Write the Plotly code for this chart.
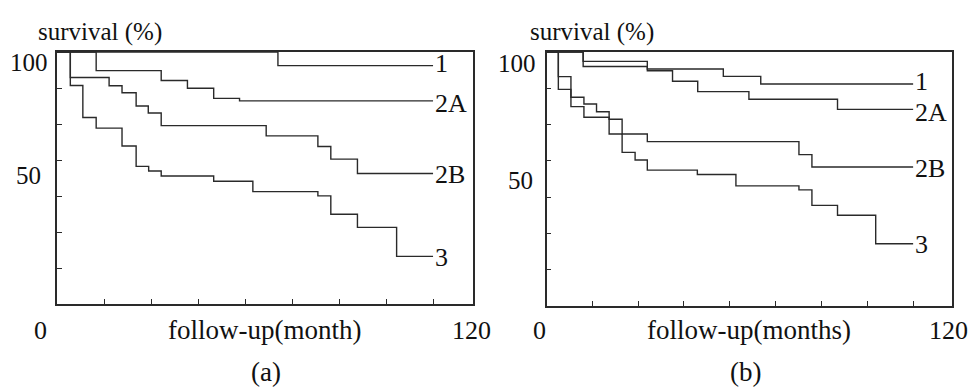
import plotly.graph_objects as go

# ---------------- data (months, survival %) ----------------
A_T1 = [0, 56.4, 96.0]
A_S1 = [100, 94.6, 94.6]
A_T2A = [0, 10.0, 26.6, 33.3, 40.0, 46.6, 96.0]
A_S2A = [100, 92.6, 88.7, 85.6, 81.6, 80.6, 80.6]
A_T2B = [0, 3.4, 13.3, 16.6, 20.2, 23.3, 26.6, 53.4, 66.6, 69.9, 76.7, 96.0]
A_S2B = [100, 89.9, 86.6, 83.8, 78.6, 75.8, 70.8, 66.7, 62.5, 57.5, 51.8, 51.8]
A_T3 = [0, 3.4, 6.6, 10.0, 16.6, 20.2, 23.4, 26.6, 40.0, 50.0, 66.6, 69.9, 76.7, 86.7, 96.0]
A_S3 = [100, 86.7, 74.0, 69.8, 62.7, 54.6, 52.8, 50.8, 48.7, 44.6, 42.9, 35.6, 30.4, 18.9, 18.9]

B_T1 = [0, 9.6, 26.4, 46.3, 56.1, 96.0]
B_S1 = [100, 96.3, 93.3, 90.4, 87.4, 87.4]
B_T2A = [0, 9.6, 26.4, 33.0, 39.6, 53.0, 76.2, 96.0]
B_S2A = [100, 94.3, 92.6, 88.5, 84.4, 81.4, 77.4, 77.4]
B_T2B = [0, 3.1, 6.4, 9.8, 13.1, 16.4, 19.8, 26.4, 66.1, 69.5, 96.0]
B_S2B = [100, 90.3, 82.2, 79.5, 76.5, 73.5, 67.7, 64.7, 59.6, 54.7, 54.7]
B_T3 = [0, 3.1, 6.4, 9.8, 16.4, 19.8, 23.2, 26.4, 39.5, 49.6, 66.1, 69.5, 76.2, 86.2, 96.0]
B_S3 = [100, 85.3, 78.5, 74.3, 67.7, 60.5, 57.5, 53.5, 51.8, 47.3, 45.7, 39.6, 35.7, 24.5, 24.5]

CURVE_NAMES = ["1", "2A", "2B", "3"]
Y_TICK_LABELS = ["100", "50"]
X_TICK_LABELS = ["0", "120"]
Y_TITLE = "survival (%)"
X_TITLES = ["follow-up(month)", "follow-up(months)"]
PANEL_LABELS = ["(a)", "(b)"]

FONT = "Liberation Serif, Times New Roman, serif"
INK = "#2a2a2a"
TXT = "#111"
W, H = 974, 390

fig = go.Figure()

panels = [
    ("x", "y", [(A_T1, A_S1), (A_T2A, A_S2A), (A_T2B, A_S2B), (A_T3, A_S3)]),
    ("x2", "y2", [(B_T1, B_S1), (B_T2A, B_S2A), (B_T2B, B_S2B), (B_T3, B_S3)]),
]
# small vertical nudges so neighbouring end labels do not collide
LABEL_NUDGE = {"1": 2, "2A": -3, "2B": -1, "3": -1}

annotations = []
for xa, ya, curves in panels:
    for name, (t, s) in zip(CURVE_NAMES, curves):
        fig.add_trace(go.Scatter(x=t, y=s, mode="lines", line=dict(shape="hv", color=INK, width=1.4),
                                 xaxis=xa, yaxis=ya, showlegend=False, hoverinfo="skip"))
        annotations.append(dict(x=t[-1], y=s[-1], xref=xa, yref=ya, text=name, showarrow=False,
                                xanchor="left", yanchor="middle", xshift=1, yshift=LABEL_NUDGE[name],
                                borderpad=0, font=dict(family=FONT, size=26, color=TXT)))

def paper(px, py, text, size):
    return dict(x=px / W, y=1 - py / H, xref="paper", yref="paper", text=text, showarrow=False,
                xanchor="center", yanchor="middle", borderpad=0,
                font=dict(family=FONT, size=size, color=TXT))

# panel (a) texts
annotations += [
    paper(100, 32, Y_TITLE, 25),
    paper(29, 63, Y_TICK_LABELS[0], 25),
    paper(28, 176, Y_TICK_LABELS[1], 25),
    paper(40, 330, X_TICK_LABELS[0], 26),
    paper(264, 330, X_TITLES[0], 27),
    paper(471, 330, X_TICK_LABELS[1], 26),
    paper(266, 372, PANEL_LABELS[0], 27),
]
# panel (b) texts
annotations += [
    paper(592, 32, Y_TITLE, 25),
    paper(517, 64, Y_TICK_LABELS[0], 25),
    paper(520, 180, Y_TICK_LABELS[1], 25),
    paper(539, 330, X_TICK_LABELS[0], 26),
    paper(749, 330, X_TITLES[1], 27),
    paper(948, 330, X_TICK_LABELS[1], 26),
    paper(745, 372, PANEL_LABELS[1], 27),
]

def xaxis(domain, rng):
    return dict(domain=domain, range=rng, showgrid=False, zeroline=False, showline=True, mirror=True,
                linecolor=INK, linewidth=1.5, ticks="inside", ticklen=5, tickcolor=INK, tickwidth=1.2,
                tickvals=[12, 24, 36, 48, 60, 72, 84, 96], showticklabels=False, fixedrange=True)

def yaxis(domain, anchor):
    return dict(domain=domain, range=[0, 100], anchor=anchor, showgrid=False, zeroline=False, showline=True,
                mirror=True, linecolor=INK, linewidth=1.5, ticks="inside", ticklen=5, tickcolor=INK,
                tickwidth=1.2, tickvals=[100 * k / 7 for k in range(1, 7)], showticklabels=False,
                fixedrange=True)

fig.update_layout(
    width=W, height=H, margin=dict(l=0, r=0, t=0, b=0),
    paper_bgcolor="white", plot_bgcolor="white",
    xaxis=dict(xaxis([57 / W, 473 / W], [0, 106.2]), anchor="y"),
    yaxis=yaxis([1 - 304 / H, 1 - 52 / H], "x"),
    xaxis2=dict(xaxis([546.5 / W, 951.7 / W], [0, 106.1]), anchor="y2"),
    yaxis2=yaxis([1 - 306 / H, 1 - 52 / H], "x2"),
    annotations=annotations,
)

fig.write_html(
    "out.html",
    config={"displayModeBar": False},
    post_script="document.body.style.margin='0';document.body.style.overflow='hidden';",
)
